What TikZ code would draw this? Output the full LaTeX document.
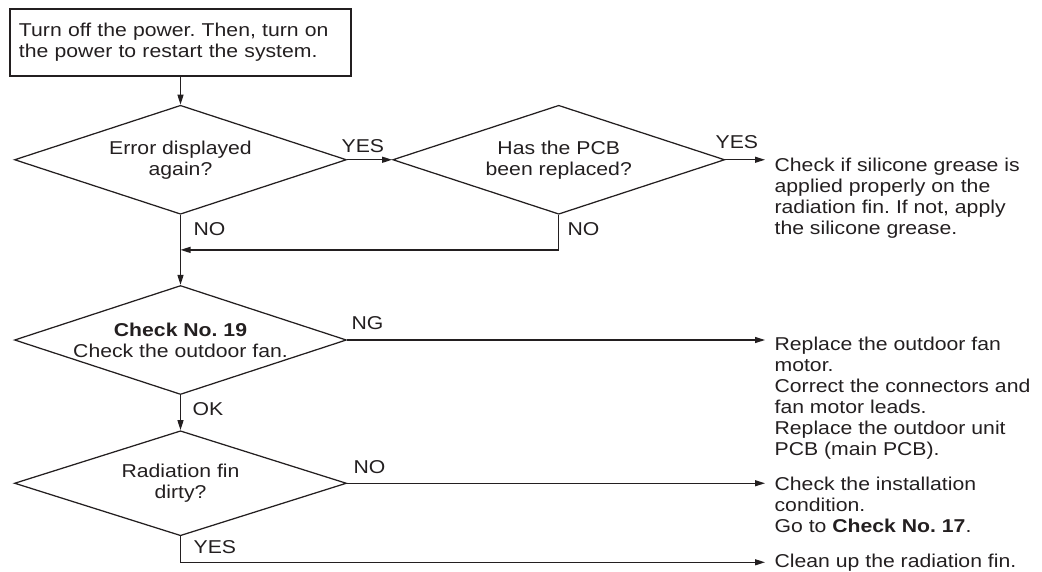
\documentclass[tikz,border=0pt]{standalone}
\usepackage{fontspec}
\setmainfont{Liberation Sans}[FakeStretch=1.14]
\usepackage{xcolor}
\usetikzlibrary{arrows.meta, positioning, shapes.geometric}
\definecolor{ink}{HTML}{231F20}
\frenchspacing

\begin{document}
\begin{tikzpicture}[x=1pt, y=-1pt, color=ink, line width=1.25pt, >={Triangle[length=10pt,width=6pt]},
  every node/.style={font=\fontsize{18.6}{21}\selectfont, inner sep=0pt},
  box/.style={draw, text width=323pt, inner xsep=9pt, minimum height=67pt, align=left},
  decision/.style={draw, diamond, minimum width=332pt, minimum height=109pt},
  qtext/.style={align=center},
  result/.style={anchor=north west, inner xsep=9pt, align=left},
  tag/.style={anchor=base west}]
\useasboundingbox (0,0) rectangle (1042,571);

% Nodes
\node[box] (restart) at (180.5,42.5) {Turn off the power. Then, turn on\\the power to restart the system.};

\node[decision, below=28pt of restart, label={[qtext]center:Error displayed\\again?}] (again) {};

\node[decision, right=45pt of again, label={[qtext]center:Has the PCB\\been replaced?}] (pcb) {};

\node[decision, below=70pt of again, label={[qtext]center:\textbf{Check No. 19}\\Check the outdoor fan.}] (fan) {};

\node[decision, below=35pt of fan, minimum height=105pt, label={[qtext]center:Radiation fin\\dirty?}] (fin) {};

\node[result] (grease) at (765,157) {Check if silicone grease is\\applied properly on the\\radiation fin. If not, apply\\the silicone grease.};

\node[result] (motor) at (765,336) {Replace the outdoor fan\\motor.\\Correct the connectors and\\fan motor leads.\\Replace the outdoor unit\\PCB (main PCB).};

\node[result] (install) at (765,476.5) {Check the installation\\condition.\\Go to \textbf{Check No. 17}.};

\node[result] (clean) at (765,553) {Clean up the radiation fin.};

\coordinate[below=35pt of pcb.south] (merge);

% Labels
\node[tag] (yes1) at (341,152) {YES};
\node[tag] (yes2) at (715,148) {YES};
\node[tag] (no1) at (193,235) {NO};
\node[tag] (no2) at (567,235) {NO};
\node[tag] (ng) at (351,329) {NG};
\node[tag] (ok) at (192,415) {OK};
\node[tag] (no3) at (353,473) {NO};
\node[tag] (yes3) at (193,553) {YES};

% Arrows
\draw[->] (restart) -- (again);
\draw[->] (again) -- (pcb);
\draw[->] (pcb) -- (pcb.east -| grease.west);
\draw[->] (pcb.south) -- (merge) -- (merge -| again.south);
\draw[->] (again) -- (fan);
\draw[->] (fan) -- (fin);
\draw[->] (fan) -- (fan.east -| motor.west);
\draw[->] (fin) -- (fin.east -| install.west);
\draw[->] (fin.south) |- (clean.west);

\end{tikzpicture}
\end{document}
